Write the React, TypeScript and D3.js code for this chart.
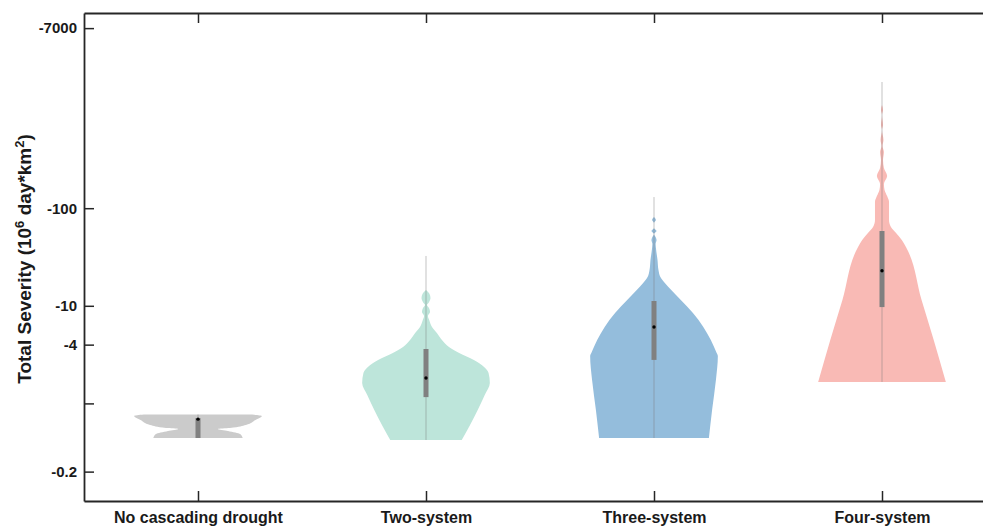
import React, { useEffect, useRef } from "react";
import * as d3 from "d3";

const categories = ["No cascading drought", "Two-system", "Three-system", "Four-system"];
const colors = ["#cbcbcb", "#bde5da", "#94bddc", "#f9bab5"];

const yTicks = [-7000, -100, -10, -4, -1, -0.2];
const yTickLabels = ["-7000", "-100", "-10", "-4", "", "-0.2"];

// violin outlines, top to bottom: [severity, relative density]
const noCascading = [
  [-0.769, 0.85], [-0.743, 1.0], [-0.676, 0.9], [-0.601, 0.75], [-0.56, 0.5],
  [-0.547, 0.31], [-0.521, 0.47], [-0.485, 0.66], [-0.442, 0.7],
];
const twoSystem = [
  [-14.5, 0], [-13.2, 0.055], [-12.0, 0.07], [-10.9, 0.047], [-10.2, 0.016],
  [-9.49, 0.047], [-8.63, 0.063], [-7.87, 0.03], [-7.16, 0.05], [-6.07, 0.094],
  [-5.26, 0.17], [-4.46, 0.25], [-3.78, 0.36], [-3.28, 0.52], [-2.79, 0.75],
  [-2.36, 0.91], [-2.05, 0.98], [-1.62, 1.0], [-1.22, 0.92], [-0.855, 0.81],
  [-0.601, 0.69], [-0.422, 0.56],
];
const threeSystem = [
  [-81.3, 0], [-75.7, 0.03], [-70.5, 0], [-62.7, 0], [-58.4, 0.04], [-54.4, 0],
  [-50.7, 0.025], [-47.2, 0.04], [-42.9, 0.025], [-39.1, 0.03], [-29.4, 0.055],
  [-23.3, 0.07], [-19.7, 0.1], [-17.1, 0.17], [-14.5, 0.27], [-11.5, 0.42],
  [-8.43, 0.61], [-6.1, 0.77], [-4.46, 0.89], [-3.3, 0.98], [-3.06, 1.0],
  [-1.74, 0.97], [-0.855, 0.91], [-0.442, 0.86],
];
const fourSystem = [
  [-1141, 0], [-1014, 0.016], [-902, 0], [-711, 0.016], [-632, 0], [-500, 0.023],
  [-434, 0.008], [-377, 0.03], [-312, 0.016], [-258, 0.03], [-214, 0.08],
  [-177, 0.03], [-154, 0.04], [-133, 0.08], [-116, 0.11], [-95.9, 0.11],
  [-75.7, 0.11], [-64.1, 0.14], [-55.7, 0.22], [-47.2, 0.31], [-40.0, 0.375],
  [-11.5, 0.62], [-4.47, 0.81], [-1.66, 1.0],
];
const violins = [noCascading, twoSystem, threeSystem, fourSystem];

const whiskerTop = [-0.769, -32.4, -130, -1963];
const whiskerBottom = [-0.442, -0.422, -0.442, -1.66];
const q3 = [-0.708, -3.61, -11.2, -58.4];
const q1 = [-0.442, -1.16, -2.79, -9.7];
const medians = [-0.69, -1.82, -6.07, -22.9];

const W = 983;
const H = 527;
const left = 84, right = 996, top = 13, bottom = 501;
const font = "'Liberation Sans', Arial, Helvetica, sans-serif";

const App = () => {
  const ref = useRef<SVGSVGElement>(null);

  useEffect(() => {
    const svg = d3.select(ref.current);
    svg.selectAll("*").remove();

    const x = d3.scalePoint<string>().domain(categories).range([left, right]).padding(0.5);
    const yMag = d3.scaleLog().domain([0.1, 10000]).range([bottom, top]);
    const y = (v: number) => yMag(Math.abs(v));
    const halfW = x.step() * 0.28;

    const g = svg.append("g");

    violins.forEach((data, i) => {
      const cx = x(categories[i])!;
      const area = d3.area<number[]>()
        .y(d => y(d[0]))
        .x0(d => cx - d[1] * halfW)
        .x1(d => cx + d[1] * halfW)
        .curve(d3.curveMonotoneY);
      g.append("path").attr("d", area(data)!).attr("fill", colors[i]);

      g.append("line")
        .attr("x1", cx).attr("x2", cx)
        .attr("y1", y(whiskerTop[i])).attr("y2", y(whiskerBottom[i]))
        .attr("stroke", "rgba(120,120,120,0.45)").attr("stroke-width", 1);

      g.append("rect")
        .attr("x", cx - 2.5).attr("width", 5)
        .attr("y", y(q3[i])).attr("height", y(q1[i]) - y(q3[i]))
        .attr("fill", "#808080");

      g.append("circle")
        .attr("cx", cx).attr("cy", y(medians[i])).attr("r", 1.7)
        .attr("fill", "#000");
    });

    const styleAxis = (sel: any, size: number) => {
      sel.attr("font-family", font).attr("font-size", size).attr("font-weight", "bold");
      sel.select(".domain").attr("stroke", "#262626").attr("stroke-width", 1.8);
      sel.selectAll(".tick line").attr("stroke", "#262626").attr("stroke-width", 1.5);
      sel.selectAll(".tick text").attr("fill", "#1a1a1a");
    };

    svg.append("g")
      .attr("transform", `translate(0,${bottom})`)
      .call(d3.axisBottom(x).tickSizeInner(-10).tickSizeOuter(0).tickPadding(11))
      .call(styleAxis, 16);

    svg.append("g")
      .attr("transform", `translate(0,${top})`)
      .call(d3.axisTop(x).tickSizeInner(-10).tickSizeOuter(0).tickFormat(() => ""))
      .call(styleAxis, 16);

    svg.append("g")
      .attr("transform", `translate(${left},0)`)
      .call(
        d3.axisLeft(yMag)
          .tickValues(yTicks.map(Math.abs))
          .tickFormat((_d, i) => yTickLabels[i])
          .tickSizeInner(-10).tickSizeOuter(0).tickPadding(7)
      )
      .call(styleAxis, 15);

    const title = svg.append("text")
      .attr("transform", `translate(31,${(top + bottom) / 2 + 2}) rotate(-90)`)
      .attr("text-anchor", "middle")
      .attr("font-family", font).attr("font-size", 19).attr("font-weight", "bold")
      .attr("fill", "#1a1a1a");
    title.append("tspan").text("Total Severity (10");
    title.append("tspan").attr("baseline-shift", "super").attr("font-size", 13).text("6");
    title.append("tspan").text(" day*km");
    title.append("tspan").attr("baseline-shift", "super").attr("font-size", 13).text("2");
    title.append("tspan").text(")");
  }, []);

  return (
    <svg ref={ref} width={W} height={H}
      style={{ position: "absolute", left: 0, top: 0, background: "#fff" }} />
  );
};

export default App;
